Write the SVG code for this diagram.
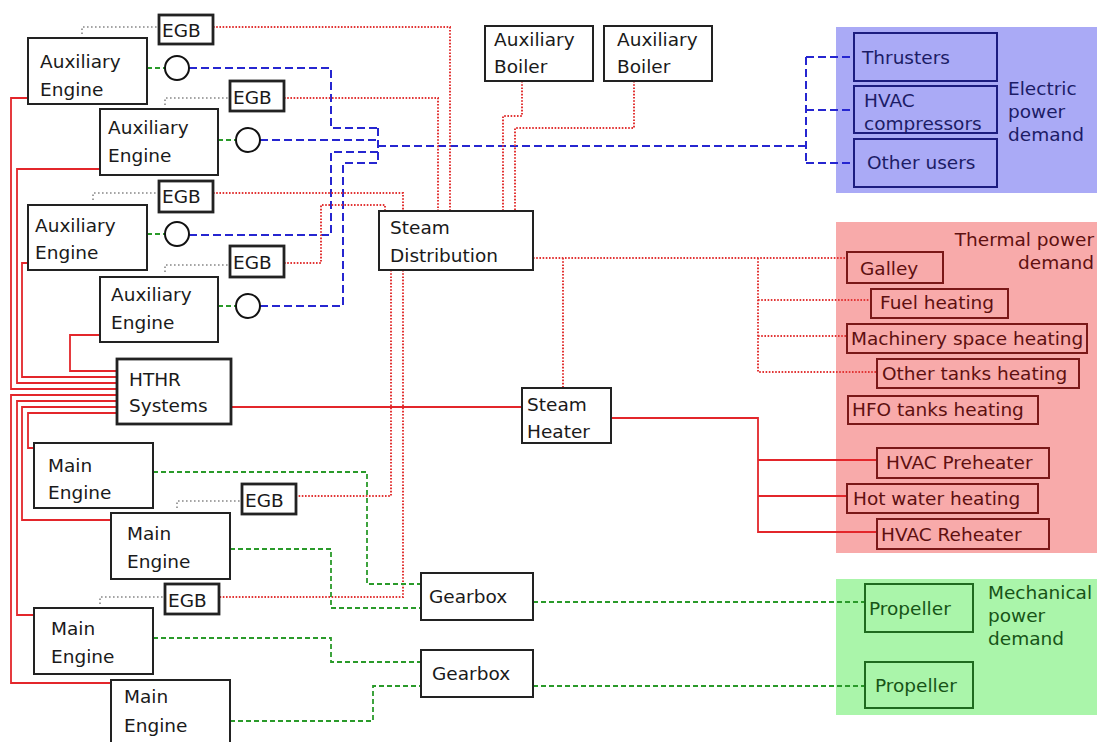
<svg xmlns="http://www.w3.org/2000/svg" width="1097" height="742" viewBox="0 0 1097 742">
<style>
text{font-family:"DejaVu Sans","Liberation Sans",sans-serif;font-size:18.5px;fill:#1a1a1a}
.box{fill:#fff;stroke:#222;stroke-width:2}
.thick{fill:#fff;stroke:#222;stroke-width:2.8}
.circ{fill:#fff;stroke:#111;stroke-width:2}
.eb{fill:none;stroke:#1c1c80;stroke-width:2}
.tb{fill:none;stroke:#7a1818;stroke-width:2}
.mb{fill:none;stroke:#1f6a1f;stroke-width:2}
.et{fill:#1c1c66}
.tt{fill:#5e1010}
.mt{fill:#175417}
.blue{fill:none;stroke:#2626d0;stroke-width:2;stroke-dasharray:8 4}
.green{fill:none;stroke:#2a9a2a;stroke-width:1.8;stroke-dasharray:5 3}
.rdot{fill:none;stroke:#e23535;stroke-width:2;stroke-dasharray:1.6 1.6}
.gdot{fill:none;stroke:#888;stroke-width:1.6;stroke-dasharray:1.6 2.4}
.red{fill:none;stroke:#e3262b;stroke-width:1.8}
</style>
<rect width="1097" height="742" fill="#fff"/>
<g id="panels">
<rect x="836" y="27" width="261" height="166" fill="#aaaaf6"/>
<rect x="836" y="222" width="261" height="331" fill="#f8aaaa"/>
<rect x="836" y="579" width="261" height="136" fill="#aaf5aa"/>
<text class="et" x="1008" y="95">Electric</text>
<text class="et" x="1008" y="118">power</text>
<text class="et" x="1008" y="141">demand</text>
<text class="tt" x="1094" y="246" text-anchor="end">Thermal power</text>
<text class="tt" x="1094" y="269" text-anchor="end">demand</text>
<text class="mt" x="988" y="599">Mechanical</text>
<text class="mt" x="988" y="622">power</text>
<text class="mt" x="988" y="645">demand</text>
</g>
<g id="connectors">
<path class="blue" d="M189,68 H331 V128 H378 M260,140 H378 M189,235 H331 V152 H378 M260,306 H343 V163 H378 M378,128 V163 M378,146 H806 M806,57 V163 M806,57 H854 M806,110 H854 M806,163 H854"/>
<path class="rdot" d="M213,27 H450 V211 M284,98 H438 V211 M213,193 H403 V211 M284,263 H321 V205 H385 V211 M522,81 V116 H503 V211 M634,81 V128 H515 V211 M391,270 V496 H296 M403,270 V597 H219 M533,258 H847 M563,258 V388 M758,258 V372 H877 M758,300 H871 M758,336 H847"/>
<path class="red" d="M28,98 H11 V389 H117 M100,169 H17 V383 H117 M28,263 H22 V377 H117 M100,335 H70 V371 H117 M117,413 H28 V448 H34 M117,407 H22 V520 H111 M117,401 H17 V615 H34 M117,395 H11 V683 H111 M231,407 H522 M611,418 H758 V532 H877 M758,460 H877 M758,496 H847"/>
<path class="green" d="M147,68 H165 M218,140 H236 M147,234 H165 M218,306 H236 M153,472 H367 V584 H421 M230,549 H331 V608 H421 M153,638 H331 V662 H421 M230,721 H373 V686 H421 M533,602 H865 M533,686 H865"/>
<path class="gdot" d="M82,34 V27 H159 M165,105 V98 H230 M93,200 V193 H159 M165,272 V265 H230 M177,508 V501 H242 M100,604 V597 H165"/>
</g>
<g id="ae1"><rect class="box" x="28" y="38" width="119" height="66"/><text x="40" y="68">Auxiliary</text><text x="40" y="96">Engine</text></g>
<g id="ae2"><rect class="box" x="100" y="109" width="118" height="66"/><text x="108" y="134">Auxiliary</text><text x="108" y="162">Engine</text></g>
<g id="ae3"><rect class="box" x="28" y="205" width="119" height="65"/><text x="35" y="232">Auxiliary</text><text x="35" y="259">Engine</text></g>
<g id="ae4"><rect class="box" x="100" y="277" width="118" height="65"/><text x="111" y="301">Auxiliary</text><text x="111" y="329">Engine</text></g>
<g id="gen1"><circle class="circ" cx="177" cy="68" r="12"/></g>
<g id="gen2"><circle class="circ" cx="248" cy="140" r="12"/></g>
<g id="gen3"><circle class="circ" cx="177" cy="234" r="12"/></g>
<g id="gen4"><circle class="circ" cx="248" cy="306" r="12"/></g>
<g id="egb1"><rect class="thick" x="159" y="15" width="54" height="29"/><text x="162" y="37">EGB</text></g>
<g id="egb2"><rect class="thick" x="230" y="81" width="54" height="30"/><text x="233" y="104">EGB</text></g>
<g id="egb3"><rect class="thick" x="159" y="181" width="54" height="31"/><text x="162" y="203">EGB</text></g>
<g id="egb4"><rect class="thick" x="230" y="246" width="54" height="31"/><text x="233" y="269">EGB</text></g>
<g id="egb5"><rect class="thick" x="242" y="484" width="54" height="30"/><text x="245" y="507">EGB</text></g>
<g id="egb6"><rect class="thick" x="165" y="584" width="54" height="30"/><text x="168" y="607">EGB</text></g>
<g id="hthr"><rect class="thick" x="117" y="359" width="114" height="65"/><text x="129" y="386">HTHR</text><text x="129" y="412">Systems</text></g>
<g id="me1"><rect class="box" x="34" y="443" width="119" height="65"/><text x="48" y="472">Main</text><text x="48" y="499">Engine</text></g>
<g id="me2"><rect class="box" x="111" y="513" width="119" height="66"/><text x="127" y="540">Main</text><text x="127" y="568">Engine</text></g>
<g id="me3"><rect class="box" x="34" y="608" width="119" height="66"/><text x="51" y="635">Main</text><text x="51" y="663">Engine</text></g>
<g id="me4"><rect class="box" x="111" y="680" width="119" height="66"/><text x="124" y="703">Main</text><text x="124" y="732">Engine</text></g>
<g id="steamdist"><rect class="box" x="379" y="211" width="154" height="59"/><text x="390" y="234">Steam</text><text x="390" y="262">Distribution</text></g>
<g id="auxboiler1"><rect class="box" x="485" y="26" width="108" height="55"/><text x="494" y="46">Auxiliary</text><text x="494" y="73">Boiler</text></g>
<g id="auxboiler2"><rect class="box" x="604" y="26" width="108" height="55"/><text x="617" y="46">Auxiliary</text><text x="617" y="73">Boiler</text></g>
<g id="steamheater"><rect class="box" x="522" y="388" width="89" height="55"/><text x="527" y="411">Steam</text><text x="527" y="438">Heater</text></g>
<g id="gearbox1"><rect class="box" x="421" y="573" width="112" height="47"/><text x="429" y="603">Gearbox</text></g>
<g id="gearbox2"><rect class="box" x="421" y="650" width="112" height="47"/><text x="432" y="680">Gearbox</text></g>
<g id="thrusters"><rect class="eb" x="854" y="33" width="143" height="48"/><text class="et" x="862" y="64">Thrusters</text></g>
<g id="hvaccomp"><rect class="eb" x="854" y="86" width="143" height="47"/><text class="et" x="864" y="107">HVAC</text><text class="et" x="864" y="130">compressors</text></g>
<g id="otherusers"><rect class="eb" x="854" y="139" width="143" height="48"/><text class="et" x="867" y="169">Other users</text></g>
<g id="galley"><rect class="tb" x="847" y="252" width="96" height="31"/><text class="tt" x="860" y="275">Galley</text></g>
<g id="fuelheating"><rect class="tb" x="871" y="289" width="137" height="29"/><text class="tt" x="880" y="309">Fuel heating</text></g>
<g id="machinery"><rect class="tb" x="847" y="324" width="240" height="29"/><text class="tt" x="851" y="345">Machinery space heating</text></g>
<g id="othertanks"><rect class="tb" x="877" y="359" width="202" height="29"/><text class="tt" x="882" y="380">Other tanks heating</text></g>
<g id="hfotanks"><rect class="tb" x="848" y="396" width="190" height="28"/><text class="tt" x="852" y="416">HFO tanks heating</text></g>
<g id="hvacpre"><rect class="tb" x="877" y="448" width="172" height="30"/><text class="tt" x="886" y="469">HVAC Preheater</text></g>
<g id="hotwater"><rect class="tb" x="847" y="484" width="191" height="29"/><text class="tt" x="853" y="505">Hot water heating</text></g>
<g id="hvacre"><rect class="tb" x="877" y="519" width="172" height="30"/><text class="tt" x="881" y="541">HVAC Reheater</text></g>
<g id="propeller1"><rect class="mb" x="865" y="584" width="108" height="48"/><text class="mt" x="869" y="615">Propeller</text></g>
<g id="propeller2"><rect class="mb" x="865" y="662" width="108" height="46"/><text class="mt" x="875" y="692">Propeller</text></g>
</svg>
